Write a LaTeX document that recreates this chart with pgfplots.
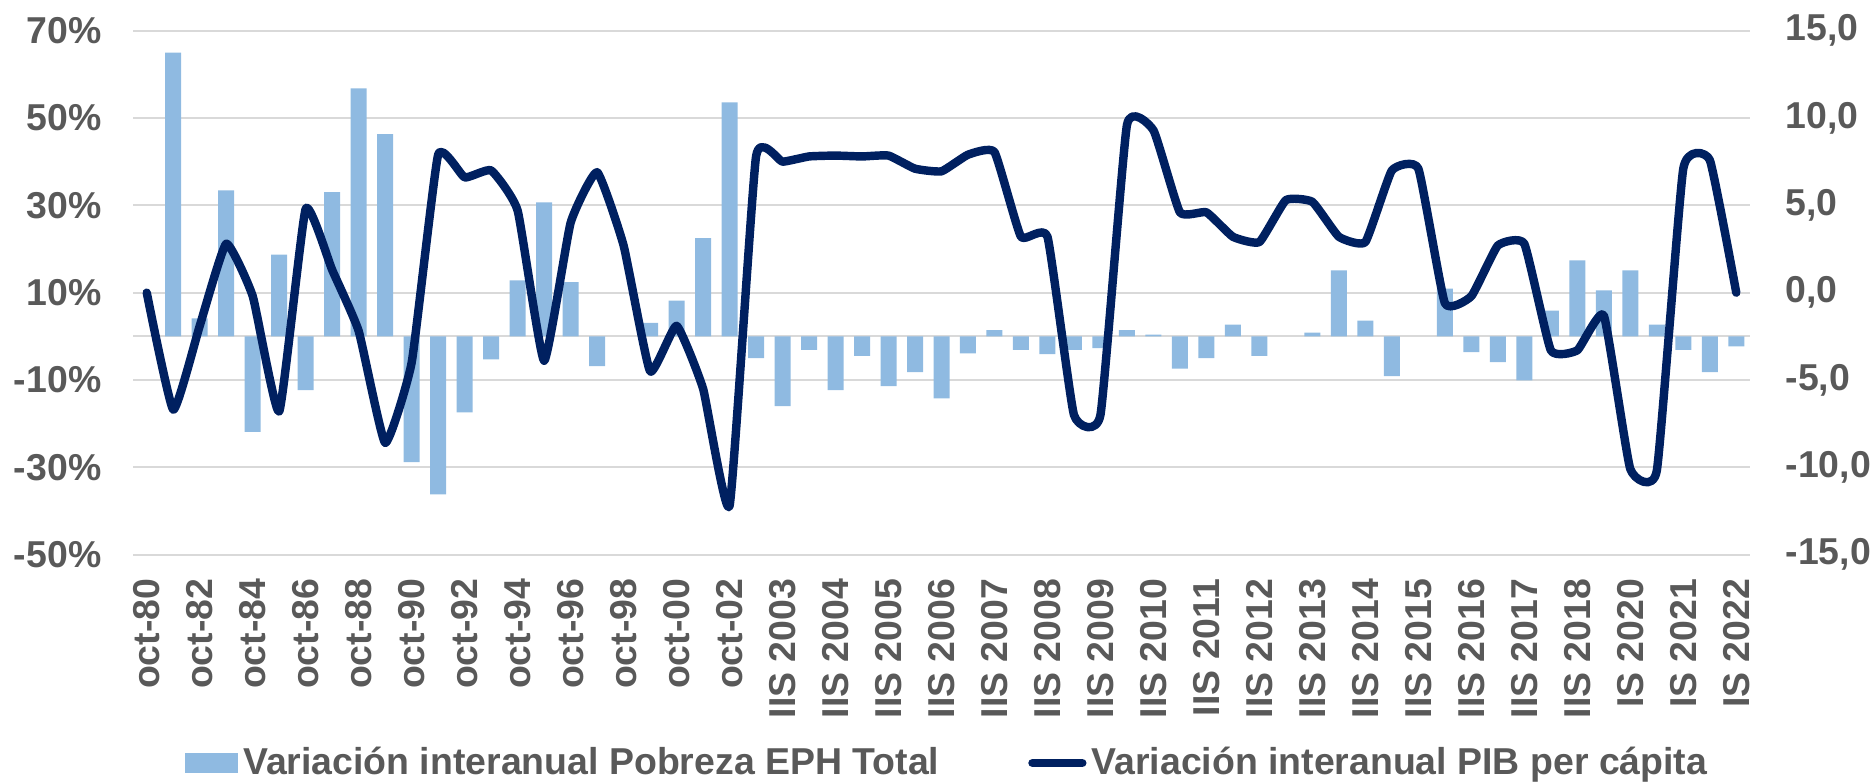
\documentclass[border=0pt]{standalone}
\usepackage{fontspec}
\setmainfont{Liberation Sans}
\usepackage{pgfplots}
\usepackage{pgfplotstable}
\pgfplotsset{compat=1.18}

\definecolor{barblue}{RGB}{143,186,225}
\definecolor{pibnavy}{RGB}{0,32,96}
\definecolor{gridgray}{RGB}{217,217,217}
\definecolor{labelgray}{RGB}{89,89,89}

% i = category index, pob = variacion pobreza (%), pib = variacion PIB per capita
\pgfplotstableread{
i pob pib
0 nan 0.0
1 65.0 -6.7
2 4.1 -1.9
3 33.4 2.8
4 -21.9 -0.2
5 18.7 -6.8
6 -12.3 4.8
7 33.0 1.3
8 56.8 -2.2
9 46.3 -8.6
10 -28.8 -4.0
11 -36.2 7.9
12 -17.4 6.6
13 -5.3 7.0
14 12.8 4.7
15 30.7 -3.9
16 12.4 4.0
17 -6.8 6.9
18 nan 2.7
19 3.1 -4.5
20 8.2 -1.9
21 22.5 -5.5
22 53.6 -12.2
23 -5.0 7.8
24 -16.0 7.5
25 -3.1 7.8
26 -12.3 7.85
27 -4.5 7.8
28 -11.4 7.85
29 -8.2 7.1
30 -14.2 6.95
31 -3.9 7.9
32 1.4 8.05
33 -3.1 3.2
34 -4.1 3.2
35 -3.1 -7.0
36 -2.7 -7.0
37 1.4 9.6
38 0.4 9.3
39 -7.4 4.6
40 -5.0 4.6
41 2.7 3.2
42 -4.5 2.9
43 nan 5.3
44 0.85 5.2
45 15.1 3.2
46 3.6 2.9
47 -9.1 7.0
48 nan 7.1
49 10.9 -0.6
50 -3.6 -0.2
51 -5.9 2.7
52 -10.1 2.8
53 5.9 -3.3
54 17.4 -3.3
55 10.5 -1.3
56 15.1 -10.1
57 2.7 -10.2
58 -3.1 7.1
59 -8.2 7.6
60 -2.3 0.0
}\datatable

\newcommand{\lblfont}{\fontsize{10.65}{12}\selectfont\bfseries}

\pgfplotsset{
  common/.style={
    width=161.6mm, height=52.39mm, scale only axis,
    xmin=-0.5, xmax=60.5, enlarge x limits=false,
    axis line style={draw=none},
    major tick length=0pt, tick style={draw=none},
    tick label style={font=\lblfont, text=labelgray},
  }
}

\begin{document}
\begin{tikzpicture}
\begin{axis}[
  common, name=main,
  ymin=-50, ymax=70,
  ytick={-50,-30,...,70},
  yticklabels={-50\%,-30\%,-10\%,10\%,30\%,50\%,70\%},
  yticklabel style={anchor=east, inner sep=0pt, xshift=-3.15mm},
  xtick={0,2,...,60},
  xticklabels={oct-80,oct-82,oct-84,oct-86,oct-88,oct-90,oct-92,oct-94,oct-96,oct-98,oct-00,oct-02,
    IIS 2003,IIS 2004,IIS 2005,IIS 2006,IIS 2007,IIS 2008,IIS 2009,IIS 2010,IIS 2011,IIS 2012,
    IIS 2013,IIS 2014,IIS 2015,IIS 2016,IIS 2017,IIS 2018,IS 2020,IS 2021,IS 2022},
  xticklabel shift=2.34mm,
  xticklabel style={rotate=90, anchor=east, inner sep=0pt},
  ymajorgrids, grid style={gridgray, line width=0.6pt},
  extra y ticks={0}, extra y tick labels={},
  extra y tick style={grid=major},
  ybar, bar width=1.6mm,
]
\addplot[fill=barblue, draw=none] table[x=i, y=pob] {\datatable};
\end{axis}

\begin{axis}[
  common,
  ymin=-15, ymax=15,
  xtick=\empty,
  ytick={-15,-10,...,15},
  yticklabels={{-15,0},{-10,0},{-5,0},{0,0},{5,0},{10,0},{15,0}},
  yticklabel pos=right,
  yticklabel style={anchor=west, inner sep=0pt, xshift=3.55mm},
  legend columns=2,
  legend style={at={(0.5,0)}, anchor=center, xshift=0.45mm, yshift=-20.84mm,
    draw=none, fill=none, inner sep=0pt,
    font=\lblfont, text=labelgray,
    nodes={inner sep=0pt},
    /tikz/every odd column/.append style={column sep=0.5mm},
    /tikz/every even column/.append style={column sep=8.9mm}},
]
\addlegendimage{legend image code/.code={\fill[barblue] (0mm,-0.9mm) rectangle (5.2mm,0.9mm);}}
\addplot[pibnavy, line width=2.4pt, smooth, tension=0.25, line cap=round, line join=round,
  legend image code/.code={\draw[pibnavy, line width=2.4pt, line cap=round] (0.42mm,0) -- (5.4mm,0);}]
  table[x=i, y=pib] {\datatable};
\legend{Variación interanual Pobreza EPH Total, Variación interanual PIB per cápita}
\end{axis}

\pgfresetboundingbox
\path[use as bounding box] ([xshift=-13.35mm,yshift=-22.74mm]main.south west)
  rectangle ([xshift=12.25mm,yshift=3.07mm]main.north east);
\end{tikzpicture}
\end{document}
